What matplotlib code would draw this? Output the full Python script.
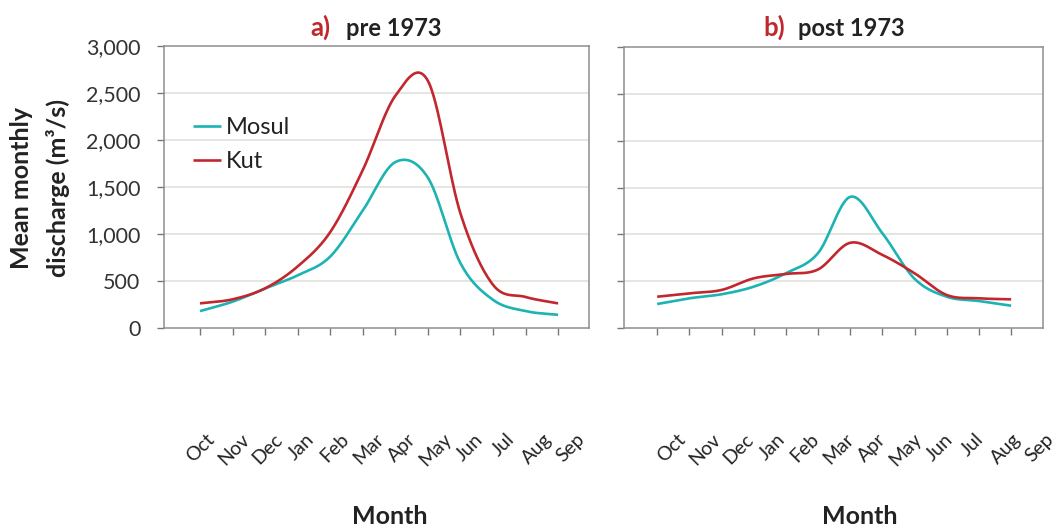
import numpy as np
import matplotlib
matplotlib.use("Agg")
import matplotlib.pyplot as plt
from matplotlib.ticker import FuncFormatter, FixedLocator, NullFormatter

plt.rcParams['font.family'] = ['Lato', 'DejaVu Sans']

months = ["Oct", "Nov", "Dec", "Jan", "Feb", "Mar", "Apr", "May", "Jun", "Jul", "Aug", "Sep"]
mosul_pre = [180, 280, 420, 560, 760, 1250, 1765, 1600, 690, 300, 180, 140]
kut_pre = [262, 305, 422, 655, 1020, 1680, 2470, 2630, 1220, 460, 330, 262]
mosul_post = [256, 317, 360, 441, 584, 800, 1400, 1011, 525, 334, 288, 238]
kut_post = [334, 370, 406, 530, 577, 625, 910, 780, 584, 352, 317, 306]

CYAN = "#1DB3B3"
RED = "#C1272D"
W, H = 1059, 529


def smooth(y, n=30):
    """Catmull-Rom smoothing (like Excel smoothed lines)."""
    y = np.asarray(y, float)
    x = np.arange(len(y), dtype=float)
    p = np.concatenate([[2 * y[0] - y[1]], y, [2 * y[-1] - y[-2]]])
    xs, ys = [], []
    for i in range(len(y) - 1):
        p0, p1, p2, p3 = p[i], p[i + 1], p[i + 2], p[i + 3]
        m1 = (p2 - p0) / 2.0
        m2 = (p3 - p1) / 2.0
        t = np.linspace(0, 1, n, endpoint=(i == len(y) - 2))
        h00 = 2 * t**3 - 3 * t**2 + 1
        h10 = t**3 - 2 * t**2 + t
        h01 = -2 * t**3 + 3 * t**2
        h11 = t**3 - t**2
        ys.append(h00 * p1 + h10 * m1 + h01 * p2 + h11 * m2)
        xs.append(x[i] + t)
    return np.concatenate(xs), np.concatenate(ys)


fig = plt.figure(figsize=(W / 100, H / 100), dpi=100)


def px_axes(x0, x1, y0, y1):
    return fig.add_axes([x0 / W, 1 - y1 / H, (x1 - x0) / W, (y1 - y0) / H])


ax1 = px_axes(164, 589, 46, 328)
ax2 = px_axes(624, 1043, 47, 328)

panels = [
    (ax1, mosul_pre, kut_pre, (-1.106, 11.95), 0.0, 1.034),
    (ax2, mosul_post, kut_post, (-1.03, 11.99), 0.44, 1.04),
]

for ax, mo, ku, xl, loff, lstep in panels:
    for vals, col, lab in [(mo, CYAN, "Mosul"), (ku, RED, "Kut")]:
        xs, ys = smooth(vals)
        ax.plot(xs, ys, color=col, lw=1.9, label=lab, solid_capstyle='butt', zorder=3)
    ax.set_xlim(*xl)
    ax.set_ylim(0, 3000)
    ax.set_yticks(np.arange(0, 3001, 500))
    for g in np.arange(500, 3000, 500):
        ax.axhline(g, color="#E4E4DE", lw=1.3, zorder=1)
    ax.xaxis.remove_overlapping_locs = False
    ax.xaxis.set_major_locator(FixedLocator(np.arange(12)))
    ax.xaxis.set_major_formatter(NullFormatter())
    ax.xaxis.set_minor_locator(FixedLocator(loff + np.arange(12) * lstep))
    ax.xaxis.set_minor_formatter(FuncFormatter(lambda v, pos: months[pos] if pos is not None and pos < 12 else ""))
    ax.tick_params(axis='x', which='major', direction='out', length=5, width=1, color="#777777")
    ax.tick_params(axis='x', which='minor', length=0, pad=74, labelsize=14, labelcolor="#222222",
                   labelrotation=45)
    ax.tick_params(axis='y', direction='out', length=5, width=1, color="#777777", pad=12,
                   labelsize=15.5, labelcolor="#333333")
    for lab in ax.get_xticklabels(minor=True):
        lab.set_ha('center')
        lab.set_va('top')
    for s in ax.spines.values():
        s.set_color("#8E8E8E")
        s.set_linewidth(1.1)

ax1.yaxis.set_major_formatter(FuncFormatter(lambda v, pos: f"{int(v):,}"))
ax2.yaxis.set_major_formatter(NullFormatter())

ax1.legend(loc='upper left', bbox_to_anchor=(0.068, 0.748), frameon=False, fontsize=17,
           handlelength=1.2, handletextpad=0.2, labelspacing=0.56, borderpad=0, borderaxespad=0,
           labelcolor="#222222")

# titles
fig.text(310 / W, 1 - 27 / H, "a)", color=RED, fontsize=18.5, fontweight='bold', ha='left', va='center')
fig.text(346 / W, 1 - 28 / H, "pre 1973", color="#222222", fontsize=17, fontweight='bold', ha='left', va='center')
fig.text(763 / W, 1 - 27 / H, "b)", color=RED, fontsize=18.5, fontweight='bold', ha='left', va='center')
fig.text(798 / W, 1 - 28 / H, "post 1973", color="#222222", fontsize=17, fontweight='bold', ha='left', va='center')

# axis labels
fig.text(40 / W, 1 - 188 / H, "Mean monthly\ndischarge (m³/s)", rotation=90, ha='center', va='center',
         fontsize=18, fontweight='bold', color="#222222", linespacing=1.65)
fig.text(390 / W, 1 - 517 / H, "Month", ha='center', va='center', fontsize=18, fontweight='bold', color="#222222")
fig.text(860 / W, 1 - 517 / H, "Month", ha='center', va='center', fontsize=18, fontweight='bold', color="#222222")

fig.savefig("out.png", dpi=100)
